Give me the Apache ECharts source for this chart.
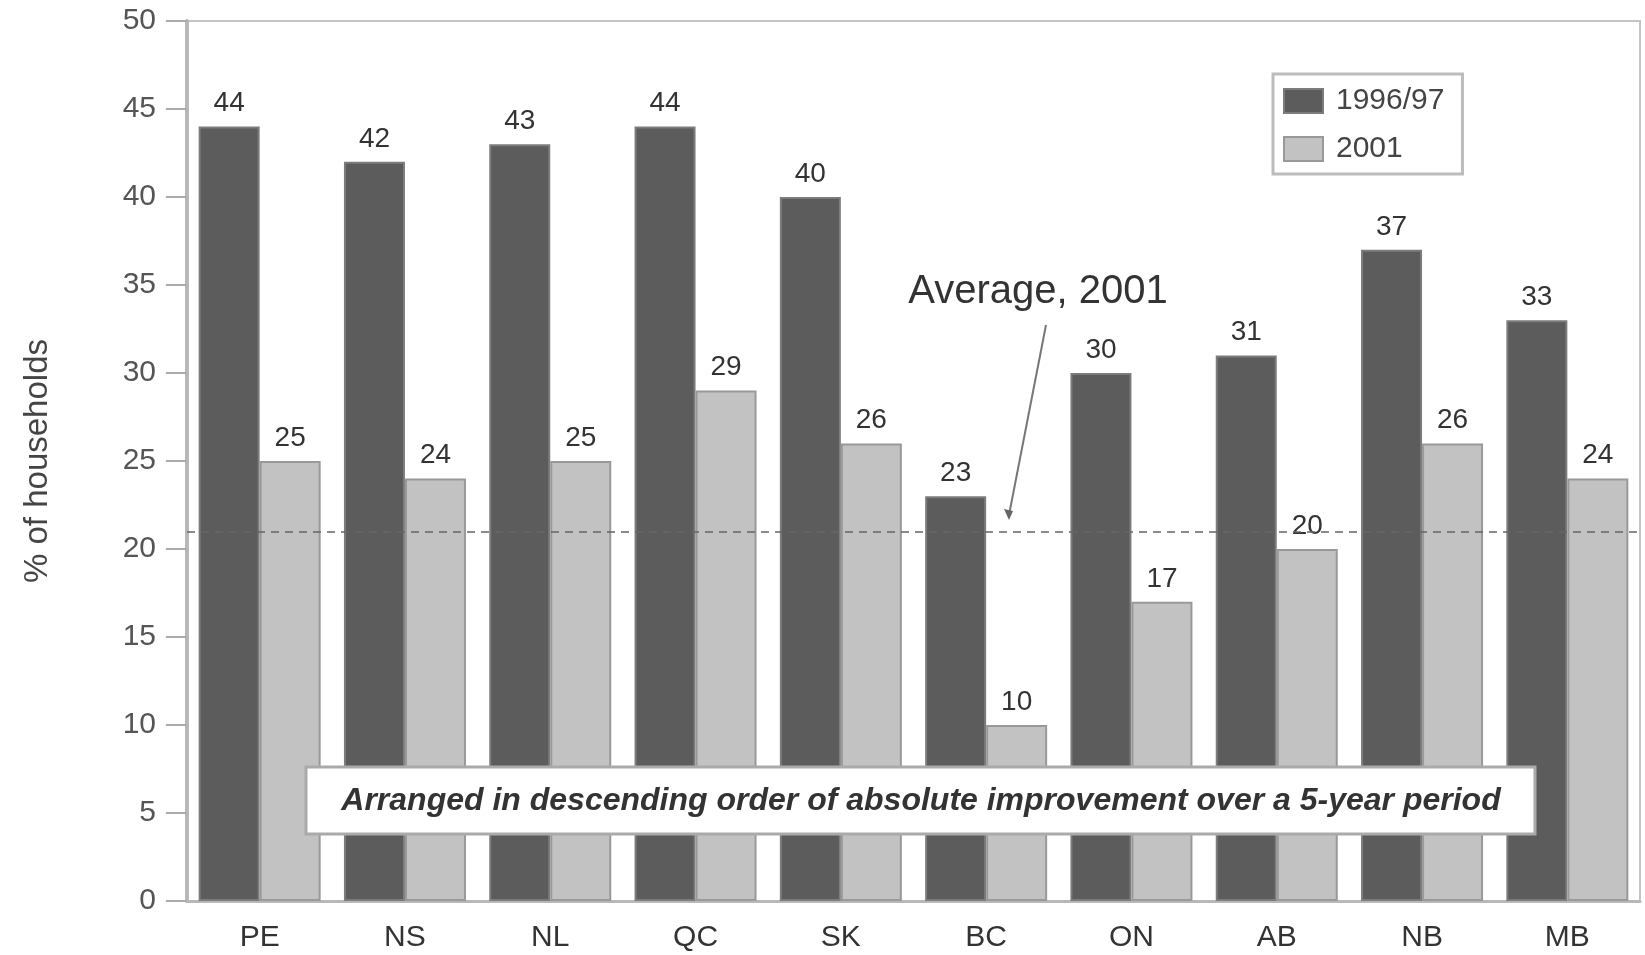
<!DOCTYPE html>
<html>
<head>
<meta charset="utf-8">
<script src="https://cdn.jsdelivr.net/npm/echarts@6/dist/echarts.min.js"></script>
<style>
html, body { margin: 0; padding: 0; background: #fff; }
#main { width: 1645px; height: 955px; }
</style>
</head>
<body>
<div id="main"></div>
<script>
// provinces, in descending order of absolute improvement
var provinces = ['PE', 'NS', 'NL', 'QC', 'SK', 'BC', 'ON', 'AB', 'NB', 'MB'];
var y1996 = [44, 42, 43, 44, 40, 23, 30, 31, 37, 33];
var y2001 = [25, 24, 25, 29, 26, 10, 17, 20, 26, 24];
var avg2001 = 21;
var yTicks = [0, 5, 10, 15, 20, 25, 30, 35, 40, 45, 50];

var font = 'Liberation Sans, Arial, sans-serif';
var myChart = echarts.init(document.getElementById('main'));

myChart.setOption({
	animation: false,
	textStyle: { fontFamily: font },
	grid: {
		left: 187, right: 5, top: 21, bottom: 54,
		show: true,
		borderColor: '#c4c4c4',
		borderWidth: 2
	},
	legend: {
		data: ['1996/97', '2001'],
		orient: 'vertical',
		left: 1273,
		top: 74,
		padding: [12, 18, 10, 10],
		icon: 'rect',
		itemWidth: 39,
		itemHeight: 24,
		itemGap: 18,
		backgroundColor: '#fff',
		borderColor: '#bcbcbc',
		borderWidth: 3,
		textStyle: { fontSize: 30, color: '#444', fontFamily: font, padding: [0, 0, 0, 8] }
	},
	xAxis: {
		type: 'category',
		data: provinces,
		axisLine: { lineStyle: { color: '#b8b8b8', width: 3 } },
		axisTick: { show: false },
		axisLabel: { fontSize: 30, color: '#333', margin: 22 }
	},
	yAxis: {
		type: 'value',
		min: yTicks[0],
		max: yTicks[yTicks.length - 1],
		interval: 5,
		name: '% of households',
		nameLocation: 'middle',
		nameGap: 133,
		nameTextStyle: { fontSize: 33, color: '#444' },
		axisLine: { show: true, lineStyle: { color: '#b8b8b8', width: 4 } },
		axisTick: { show: true, length: 21, lineStyle: { color: '#aaa', width: 2 } },
		splitLine: { show: false },
		axisLabel: { fontSize: 30, color: '#555', margin: 31 }
	},
	series: [{
		name: '1996/97',
		type: 'bar',
		data: y1996,
		barWidth: 61,
		barGap: '0%',
		itemStyle: { color: '#5c5c5c', borderColor: '#7c7c7c', borderWidth: 2 },
		label: { show: true, position: 'top', distance: 9, fontSize: 28, color: '#333' },
		markLine: {
			silent: true,
			symbol: 'none',
			label: { show: false },
			lineStyle: { color: '#666', type: [8, 6], width: 1.5 },
			data: [{ yAxis: avg2001 }]
		}
	}, {
		name: '2001',
		type: 'bar',
		data: y2001,
		barWidth: 61,
		itemStyle: { color: '#c2c2c2', borderColor: '#999', borderWidth: 2 },
		label: { show: true, position: 'top', distance: 9, fontSize: 28, color: '#333' }
	}],
	graphic: [{
		type: 'rect',
		shape: { x: 306, y: 767, width: 1229, height: 67 },
		style: { fill: '#fff', stroke: '#aaa', lineWidth: 3 },
		z: 100
	}, {
		type: 'text',
		x: 921, y: 801,
		style: {
			text: 'Arranged in descending order of absolute improvement over a 5-year period',
			font: 'italic bold 32px ' + font,
			fill: '#333',
			align: 'center',
			verticalAlign: 'middle'
		},
		z: 101
	}, {
		type: 'text',
		x: 1038, y: 292,
		style: {
			text: 'Average, 2001',
			font: '40px ' + font,
			fill: '#333',
			align: 'center',
			verticalAlign: 'middle'
		},
		z: 101
	}, {
		type: 'line',
		shape: { x1: 1046, y1: 325, x2: 1009, y2: 515 },
		style: { stroke: '#777', lineWidth: 2 },
		z: 101
	}, {
		type: 'polygon',
		shape: { points: [[1009, 520], [1004, 509], [1013, 511]] },
		style: { fill: '#666' },
		z: 101
	}]
});
</script>
</body>
</html>
